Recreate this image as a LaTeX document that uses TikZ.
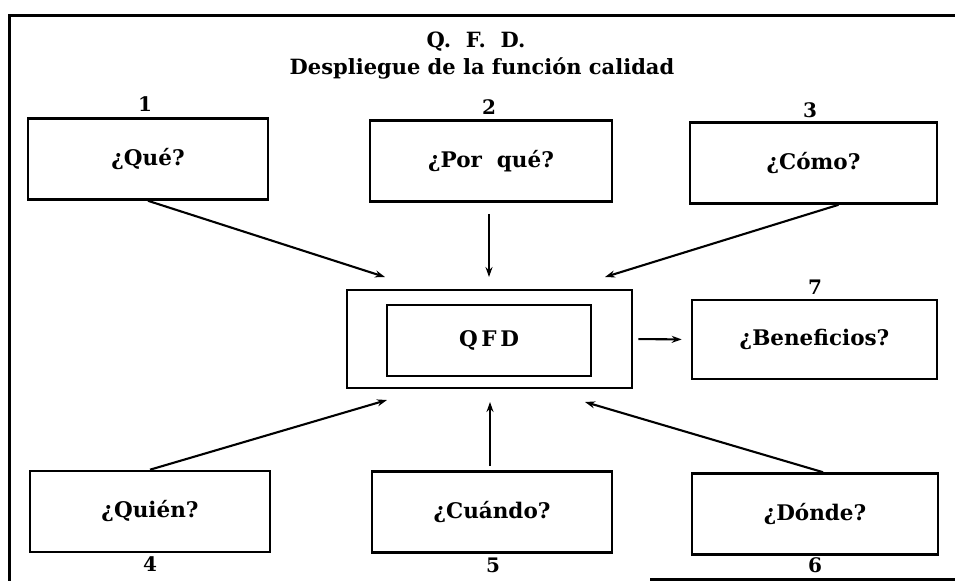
\documentclass[tikz,border=0pt]{standalone}
\usepackage{fontspec}
\setmainfont{DejaVu Serif}
\usetikzlibrary{arrows.meta}

\begin{document}
\begin{tikzpicture}[x=1pt,y=-1pt,
  qbox/.style={draw, line width=2.6pt, inner sep=0pt, minimum height=81pt,
    font=\bfseries\fontsize{21.5}{25}\selectfont},
  numlabel/.style={font=\bfseries\fontsize{20}{24}\selectfont, inner sep=0pt},
  heading/.style={font=\bfseries\fontsize{21}{25}\selectfont, inner sep=0pt, anchor=base},
  link/.style={line width=2.1pt, -{Stealth[length=10pt,width=7pt]}},
  frameline/.style={line width=3pt}]
\useasboundingbox (0,0) rectangle (955,581);

% outer frame
\draw[frameline] (955,15) -- (9,15) -- (9,581);
\draw[frameline] (650,579) -- (955,579);

% heading
\node[heading] (t1) at (476,47) {Q.\ \ F.\ \ D.};
\node[heading] (t2) at (482,74) {Despliegue de la función calidad};

% question boxes
\node[qbox, minimum width=240pt] (que)    at (148,159)   {¿Qué?};
\node[qbox, minimum width=242pt] (porque) at (491,161)   {¿Por\ \ qué?};
\node[qbox, minimum width=247pt] (como)   at (813.5,163) {¿Cómo?};
\node[qbox, minimum width=245pt, minimum height=79pt] (benef) at (814.5,339.5) {¿Beneficios?};
\node[qbox, minimum width=240pt] (quien)  at (150,511.5) {¿Quién?};
\node[qbox, minimum width=240pt] (cuando) at (492,512)   {¿Cuándo?};
\node[qbox, minimum width=246pt] (donde)  at (815,514)   {¿Dónde?};

% central QFD block
\node[draw, line width=2.6pt, minimum width=285pt, minimum height=98pt] (hub) at (489.5,339) {};
\node[qbox, minimum width=204pt, minimum height=71pt] (qfd) at (489,340.5) {Q\,F\,D};

% numbers
\node[numlabel] (n1) at (145,104) {1};
\node[numlabel] (n2) at (489,107) {2};
\node[numlabel] (n3) at (810,110) {3};
\node[numlabel] (n7) at (815,287) {7};
\node[numlabel] (n4) at (150,564) {4};
\node[numlabel] (n5) at (493,565) {5};
\node[numlabel] (n6) at (815,565) {6};

% arrow targets around the central block
\coordinate (in1) at (385,277);
\coordinate (in2) at (489,277);
\coordinate (in3) at (605,277);
\coordinate (in4) at (387,400);
\coordinate (in5) at (490,402);
\coordinate (in6) at (585,402);

% connectors
\draw[link] (que.south) -- (in1);
\draw[link, shorten <=11pt] (porque.south -| in2) -- (in2);
\draw[link] ([xshift=25pt]como.south) -- (in3);
\draw[link, shorten <=5pt, shorten >=9pt] (hub.east) -- (benef.west);
\draw[link] (quien.north) -- (in4);
\draw[link, shorten <=4pt] (cuando.north -| in5) -- (in5);
\draw[link] ([xshift=8pt]donde.north) -- (in6);
\end{tikzpicture}
\end{document}
